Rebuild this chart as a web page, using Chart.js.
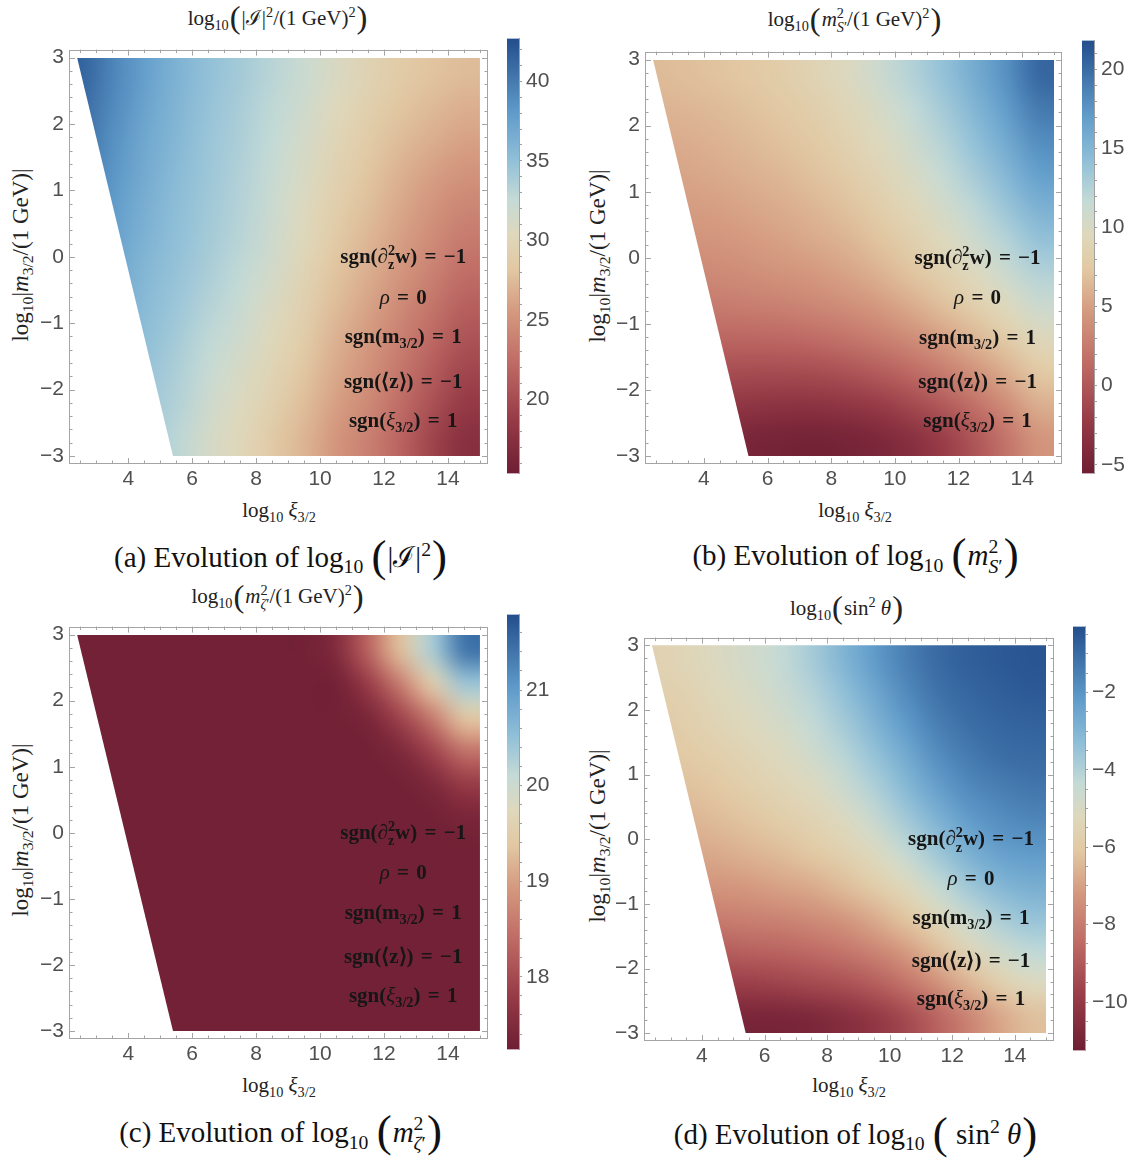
<!DOCTYPE html>
<html>
<head>
<meta charset="utf-8">
<script src="https://cdn.jsdelivr.net/npm/chart.js@4.4.1/dist/chart.umd.min.js"></script>
<style>
  body { margin: 0; background: #fff; }
  #page { position: relative; width: 1136px; height: 1160px; overflow: hidden; background: #fff; }
  canvas { position: absolute; }
  .t { position: absolute; transform: translate(-50%, -50%); white-space: nowrap;
       font-family: "Liberation Serif", serif; color: #222; line-height: 1; }
  .title { font-size: 21px; }
  .xtit { font-size: 21px; }
  .ytit { font-size: 23px; transform: translate(-50%, -50%) rotate(-90deg); }
  .cap { font-size: 29px; color: #111; }
  .bp { font-size: 1.55em; vertical-align: -0.1em; line-height: 0; padding: 0 1px; }
  sub, sup { font-size: 0.68em; line-height: 0; }
  .ss { display: inline-block; vertical-align: -0.42em; font-size: 0.68em; line-height: 1; text-align: left; }
  .ss span { display: block; }
  .sign { font-size: 21px; font-weight: bold; color: #161616; word-spacing: 2px; }
  .sign i { font-weight: normal; }
</style>
</head>
<body>
<div id="page">
  <!-- panel titles -->
  <div class="t title" style="left:278px;top:18px">log<sub>10</sub><span class="bp">(</span>|ℐ|<sup>2</sup>/(1 GeV)<sup>2</sup><span class="bp">)</span></div>
  <div class="t title" style="left:855px;top:20px">log<sub>10</sub><span class="bp">(</span><i>m</i><span class="ss"><span>2</span><span><i>S</i>′</span></span>/(1 GeV)<sup>2</sup><span class="bp">)</span></div>
  <div class="t title" style="left:278px;top:597px">log<sub>10</sub><span class="bp">(</span><i>m</i><span class="ss"><span>2</span><span><i>ζ</i>′</span></span>/(1 GeV)<sup>2</sup><span class="bp">)</span></div>
  <div class="t title" style="left:847px;top:608px">log<sub>10</sub><span class="bp">(</span>sin<sup>2</sup> <i>θ</i><span class="bp">)</span></div>

  <!-- axis titles -->
  <div class="t ytit" style="left:20px;top:255px">log<sub>10</sub>|<i>m</i><sub>3/2</sub>/(1 GeV)|</div>
  <div class="t ytit" style="left:597px;top:256px">log<sub>10</sub>|<i>m</i><sub>3/2</sub>/(1 GeV)|</div>
  <div class="t ytit" style="left:20px;top:830px">log<sub>10</sub>|<i>m</i><sub>3/2</sub>/(1 GeV)|</div>
  <div class="t ytit" style="left:597px;top:836px">log<sub>10</sub>|<i>m</i><sub>3/2</sub>/(1 GeV)|</div>
  <div class="t xtit" style="left:279px;top:510px">log<sub>10</sub> <i>ξ</i><sub>3/2</sub></div>
  <div class="t xtit" style="left:855px;top:510px">log<sub>10</sub> <i>ξ</i><sub>3/2</sub></div>
  <div class="t xtit" style="left:279px;top:1085px">log<sub>10</sub> <i>ξ</i><sub>3/2</sub></div>
  <div class="t xtit" style="left:849px;top:1085px">log<sub>10</sub> <i>ξ</i><sub>3/2</sub></div>

  <!-- captions -->
  <div class="t cap" style="left:281px;top:557px">(a) Evolution of log<sub>10</sub> <span class="bp">(</span>|ℐ|<sup>2</sup><span class="bp">)</span></div>
  <div class="t cap" style="left:856px;top:557px">(b) Evolution of log<sub>10</sub> <span class="bp">(</span><i>m</i><span class="ss"><span>2</span><span><i>S</i>′</span></span><span class="bp">)</span></div>
  <div class="t cap" style="left:281px;top:1134px">(c) Evolution of log<sub>10</sub> <span class="bp">(</span><i>m</i><span class="ss"><span>2</span><span><i>ζ</i>′</span></span><span class="bp">)</span></div>
  <div class="t cap" style="left:856px;top:1134px">(d) Evolution of log<sub>10</sub> <span class="bp">(</span> sin<sup>2</sup> <i>θ</i><span class="bp">)</span></div>
</div>

<script>
// grid nodes (cell centres) of the density plots
const xNodes = [2.5, 3.5, 4.5, 5.5, 6.5, 7.5, 8.5, 9.5, 10.5, 11.5, 12.5, 13.5, 14.5];
const yNodes = [2.75, 2.25, 1.75, 1.25, 0.75, 0.25, -0.25, -0.75, -1.25, -1.75, -2.25, -2.75];

// plotted region: right edge, top/bottom, slanted left edge (x at y=3 and y=-3)
const domainX = [2.4, 15];
const domainY = [-3, 3];
const leftEdgeX = [2.4, 5.4];

const xTicks = [4, 6, 8, 10, 12, 14];
const yTicks = [3, 2, 1, 0, -1, -2, -3];

// (a) log10(|I|^2/(1 GeV)^2)
const gridIsq = [
  [41.5, 39.4, 37.7, 36.2, 35.0, 34.1, 33.1, 32.1, 30.9, 29.6, 28.6, 28.0, 27.5],
  [41.0, 39.1, 37.4, 36.0, 34.8, 33.9, 32.8, 31.7, 30.4, 29.1, 28.1, 27.4, 26.8],
  [40.6, 38.7, 37.1, 35.8, 34.6, 33.7, 32.6, 31.3, 29.9, 28.6, 27.5, 26.7, 26.0],
  [40.1, 38.4, 36.8, 35.5, 34.5, 33.5, 32.3, 31.0, 29.5, 28.1, 26.9, 25.9, 25.1],
  [39.7, 38.0, 36.5, 35.3, 34.3, 33.3, 32.1, 30.6, 29.0, 27.7, 26.4, 25.2, 24.2],
  [39.2, 37.7, 36.2, 35.1, 34.1, 33.1, 31.8, 30.2, 28.5, 27.2, 25.9, 24.6, 23.4],
  [38.8, 37.3, 35.8, 34.8, 33.8, 32.7, 31.4, 29.7, 28.0, 26.7, 25.3, 23.9, 22.5],
  [38.3, 36.9, 35.5, 34.5, 33.3, 32.2, 30.8, 29.2, 27.5, 26.1, 24.5, 23.0, 21.5],
  [37.8, 36.5, 35.2, 34.1, 32.8, 31.7, 30.2, 28.7, 26.9, 25.5, 23.8, 22.1, 20.5],
  [37.2, 36.1, 34.8, 33.7, 32.3, 31.1, 29.7, 28.1, 26.4, 25.0, 23.1, 21.2, 19.5],
  [36.8, 35.6, 34.5, 33.4, 31.8, 30.6, 29.1, 27.6, 25.8, 24.4, 22.4, 20.3, 18.5],
  [36.3, 35.2, 34.2, 33.0, 31.3, 30.1, 28.5, 27.1, 25.3, 23.8, 21.8, 19.4, 17.5]
];

// (b) log10(m^2_S'/(1 GeV)^2)
const gridMS = [
  [6.6, 6.8, 7.1, 7.5, 8.0, 8.8, 9.8, 11.0, 12.5, 14.0, 15.8, 17.8, 20.3],
  [6.1, 6.3, 6.6, 7.0, 7.5, 8.2, 9.1, 10.3, 11.7, 13.2, 15.0, 17.0, 19.2],
  [5.6, 5.8, 6.1, 6.5, 7.0, 7.6, 8.5, 9.6, 10.9, 12.4, 14.1, 16.0, 18.0],
  [5.1, 5.3, 5.6, 6.0, 6.4, 7.0, 7.8, 8.8, 10.1, 11.5, 13.1, 14.9, 16.8],
  [4.6, 4.8, 5.0, 5.4, 5.8, 6.3, 7.0, 8.0, 9.2, 10.5, 12.0, 13.7, 15.4],
  [4.0, 4.2, 4.4, 4.7, 5.1, 5.6, 6.2, 7.1, 8.2, 9.5, 10.9, 12.4, 14.0],
  [3.3, 3.4, 3.6, 3.9, 4.2, 4.6, 5.2, 6.0, 7.1, 8.3, 9.6, 11.0, 12.5],
  [2.4, 2.4, 2.5, 2.7, 2.9, 3.3, 3.8, 4.6, 5.6, 6.8, 8.1, 9.5, 11.0],
  [1.2, 1.1, 1.0, 1.0, 1.1, 1.4, 1.9, 2.6, 3.6, 4.8, 6.2, 7.7, 9.3],
  [-0.2, -0.5, -0.8, -1.0, -1.0, -0.9, -0.5, 0.2, 1.2, 2.5, 4.0, 5.7, 7.5],
  [-1.6, -2.1, -2.6, -3.0, -3.2, -3.2, -2.9, -2.3, -1.3, 0.0, 1.7, 3.7, 5.8],
  [-3.0, -3.6, -4.2, -4.7, -5.0, -5.1, -4.9, -4.4, -3.5, -2.1, -0.2, 2.0, 4.3]
];

// (c) log10(m^2_zeta'/(1 GeV)^2)
const gridMZeta = [
  [17.3, 17.3, 17.3, 17.3, 17.3, 17.3, 17.3, 17.3, 17.5, 18.3, 19.3, 20.3, 21.4],
  [17.3, 17.3, 17.3, 17.3, 17.3, 17.3, 17.3, 17.3, 17.3, 17.8, 18.6, 19.5, 20.4],
  [17.3, 17.3, 17.3, 17.3, 17.3, 17.3, 17.3, 17.3, 17.3, 17.4, 17.9, 18.6, 19.4],
  [17.3, 17.3, 17.3, 17.3, 17.3, 17.3, 17.3, 17.3, 17.3, 17.3, 17.45, 17.9, 18.5],
  [17.3, 17.3, 17.3, 17.3, 17.3, 17.3, 17.3, 17.3, 17.3, 17.3, 17.3, 17.45, 17.8],
  [17.3, 17.3, 17.3, 17.3, 17.3, 17.3, 17.3, 17.3, 17.3, 17.3, 17.3, 17.3, 17.4],
  [17.3, 17.3, 17.3, 17.3, 17.3, 17.3, 17.3, 17.3, 17.3, 17.3, 17.3, 17.3, 17.3],
  [17.3, 17.3, 17.3, 17.3, 17.3, 17.3, 17.3, 17.3, 17.3, 17.3, 17.3, 17.3, 17.3],
  [17.3, 17.3, 17.3, 17.3, 17.3, 17.3, 17.3, 17.3, 17.3, 17.3, 17.3, 17.3, 17.3],
  [17.3, 17.3, 17.3, 17.3, 17.3, 17.3, 17.3, 17.3, 17.3, 17.3, 17.3, 17.3, 17.3],
  [17.3, 17.3, 17.3, 17.3, 17.3, 17.3, 17.3, 17.3, 17.3, 17.3, 17.3, 17.3, 17.3],
  [17.3, 17.3, 17.3, 17.3, 17.3, 17.3, 17.3, 17.3, 17.3, 17.3, 17.3, 17.3, 17.3]
];

// (d) log10(sin^2 theta)
const gridSin = [
  [-5.6, -5.4, -5.1, -4.8, -4.4, -3.8, -3.0, -2.2, -1.5, -1.0, -0.7, -0.6, -0.5],
  [-5.8, -5.6, -5.3, -5.0, -4.6, -4.1, -3.4, -2.6, -1.8, -1.2, -0.9, -0.7, -0.6],
  [-6.0, -5.8, -5.5, -5.2, -4.9, -4.4, -3.8, -3.0, -2.2, -1.5, -1.1, -0.9, -0.8],
  [-6.2, -6.0, -5.8, -5.5, -5.2, -4.8, -4.2, -3.5, -2.7, -1.9, -1.4, -1.1, -1.0],
  [-6.4, -6.3, -6.1, -5.8, -5.5, -5.2, -4.7, -4.0, -3.2, -2.4, -1.8, -1.5, -1.3],
  [-6.7, -6.6, -6.4, -6.2, -5.9, -5.6, -5.2, -4.6, -3.8, -3.0, -2.3, -1.9, -1.7],
  [-7.0, -6.9, -6.8, -6.6, -6.4, -6.1, -5.7, -5.2, -4.5, -3.7, -2.9, -2.4, -2.2],
  [-7.5, -7.4, -7.3, -7.2, -7.0, -6.8, -6.4, -5.9, -5.3, -4.5, -3.7, -3.1, -2.8],
  [-8.1, -8.1, -8.0, -7.9, -7.8, -7.6, -7.3, -6.8, -6.2, -5.4, -4.6, -3.9, -3.5],
  [-8.9, -8.9, -8.9, -8.8, -8.7, -8.5, -8.2, -7.8, -7.2, -6.4, -5.5, -4.8, -4.3],
  [-9.7, -9.8, -9.8, -9.8, -9.7, -9.5, -9.3, -8.9, -8.3, -7.5, -6.6, -5.8, -5.2],
  [-10.4, -10.6, -10.8, -10.9, -10.9, -10.8, -10.5, -10.1, -9.5, -8.7, -7.8, -6.9, -6.3]
];

// colour bar ranges and labels
const cbRangeA = [15.37, 42.68], cbTicksA = [20, 25, 30, 35, 40];
const cbRangeB = [-5.55, 21.84], cbTicksB = [-5, 0, 5, 10, 15, 20];
const cbRangeC = [17.24, 21.79], cbTicksC = [18, 19, 20, 21];
const cbRangeD = [-11.25, -0.30], cbTicksD = [-10, -8, -6, -4, -2];

// sign conditions written in every panel
const signLabels = [
  'sgn(∂<span class="ss"><span>2</span><span>z</span></span>w) = −1',
  '<i>ρ</i> = 0',
  'sgn(m<sub>3/2</sub>) = 1',
  'sgn(⟨z⟩) = −1',
  'sgn(<i>ξ</i><sub>3/2</sub>) = 1'
];
const signLabelY = [0, -0.6, -1.2, -1.87, -2.46];
const signLabelX = 12.6;

// --------- colour map (red-blue tones) ---------
const cmapStops = [
  [0.00, [110, 30, 52]],
  [0.12, [150, 58, 70]],
  [0.25, [190, 105, 100]],
  [0.37, [212, 152, 126]],
  [0.47, [226, 200, 162]],
  [0.55, [222, 216, 188]],
  [0.63, [196, 218, 214]],
  [0.72, [145, 192, 216]],
  [0.83, [95, 155, 202]],
  [1.00, [35, 78, 140]]
];

function colorAt(t) {
  t = Math.max(0, Math.min(1, t));
  for (let i = 1; i < cmapStops.length; i++) {
    const [t1, c1] = cmapStops[i];
    if (t <= t1) {
      const [t0, c0] = cmapStops[i - 1];
      const f = (t - t0) / (t1 - t0);
      return c0.map((c, k) => Math.round(c + (c1[k] - c) * f));
    }
  }
  return cmapStops[cmapStops.length - 1][1];
}

const fmt = v => (v < 0 ? '−' + Math.abs(v) : String(v));
const tickFont = { family: '"Liberation Sans", Arial, sans-serif', size: 21 };
const tickColor = '#505050';
const page = document.getElementById('page');

// --------- density plot drawn from the dataset points ---------
const heatmap = {
  id: 'heatmap',
  beforeDatasetsDraw(chart, args, opts) {
    const { ctx, scales: { x, y } } = chart;
    const pts = chart.data.datasets[0].data;
    const nx = xNodes.length, ny = yNodes.length;
    const off = document.createElement('canvas');
    off.width = nx;
    off.height = ny;
    const octx = off.getContext('2d');
    const img = octx.createImageData(nx, ny);
    pts.forEach((p, k) => {
      const c = colorAt((p.v - opts.min) / (opts.max - opts.min));
      img.data.set([c[0], c[1], c[2], 255], k * 4);
    });
    octx.putImageData(img, 0, 0);

    const dx = xNodes[1] - xNodes[0], dy = yNodes[0] - yNodes[1];
    const left = x.getPixelForValue(xNodes[0] - dx / 2);
    const right = x.getPixelForValue(xNodes[nx - 1] + dx / 2);
    const top = y.getPixelForValue(yNodes[0] + dy / 2);
    const bottom = y.getPixelForValue(yNodes[ny - 1] - dy / 2);

    ctx.save();
    ctx.beginPath();
    ctx.moveTo(x.getPixelForValue(leftEdgeX[0]), y.getPixelForValue(domainY[1]));
    ctx.lineTo(x.getPixelForValue(domainX[1]), y.getPixelForValue(domainY[1]));
    ctx.lineTo(x.getPixelForValue(domainX[1]), y.getPixelForValue(domainY[0]));
    ctx.lineTo(x.getPixelForValue(leftEdgeX[1]), y.getPixelForValue(domainY[0]));
    ctx.closePath();
    ctx.clip();
    ctx.imageSmoothingEnabled = true;
    ctx.imageSmoothingQuality = 'high';
    ctx.drawImage(off, left, top, right - left, bottom - top);
    ctx.restore();
  }
};

// --------- frame with inward ticks ---------
const frame = {
  id: 'frame',
  afterDatasetsDraw(chart) {
    const { ctx, chartArea: a, scales: { x, y } } = chart;
    ctx.save();
    ctx.strokeStyle = '#a4a4a4';
    ctx.lineWidth = 1;
    ctx.strokeRect(Math.round(a.left) + 0.5, Math.round(a.top) + 0.5, Math.round(a.width) - 1, Math.round(a.height) - 1);
    const line = (x0, y0, x1, y1) => { ctx.beginPath(); ctx.moveTo(x0, y0); ctx.lineTo(x1, y1); ctx.stroke(); };
    for (let k = 5; k <= 30; k++) {
      const v = k / 2;
      const len = xTicks.includes(v) ? 6 : 3.5;
      const px = Math.round(x.getPixelForValue(v)) + 0.5;
      line(px, a.bottom, px, a.bottom - len);
      line(px, a.top, px, a.top + len);
    }
    for (let k = -15; k <= 15; k++) {
      const len = k % 5 === 0 ? 6 : 3.5;
      const py = Math.round(y.getPixelForValue(k / 5)) + 0.5;
      line(a.left, py, a.left + len, py);
      line(a.right, py, a.right - len, py);
    }
    ctx.restore();
  }
};

function makePanel(p) {
  const yAxisW = 60, xAxisH = 40, padT = 12, padR = 6;
  const cv = document.createElement('canvas');
  cv.width = yAxisW + p.W + padR;
  cv.height = padT + p.H + xAxisH;
  cv.style.left = (p.L - yAxisW) + 'px';
  cv.style.top = (p.T - padT) + 'px';
  page.appendChild(cv);

  const pts = [];
  yNodes.forEach((yv, j) => xNodes.forEach((xv, i) => pts.push({ x: xv, y: yv, v: p.grid[j][i] })));

  const xPad = 0.02 * (domainX[1] - domainX[0]);
  const yPad = 0.02 * (domainY[1] - domainY[0]);

  const chart = new Chart(cv, {
    type: 'scatter',
    data: { datasets: [{ data: pts, pointRadius: 0, pointHoverRadius: 0 }] },
    options: {
      responsive: false,
      animation: false,
      events: [],
      layout: { padding: { top: padT, right: padR, left: 0, bottom: 0 } },
      plugins: {
        legend: { display: false },
        tooltip: { enabled: false },
        heatmap: { min: p.range[0], max: p.range[1] }
      },
      scales: {
        x: {
          type: 'linear',
          min: domainX[0] - xPad,
          max: domainX[1] + xPad,
          afterBuildTicks: s => { s.ticks = xTicks.map(v => ({ value: v })); },
          afterFit: s => { s.height = xAxisH; },
          ticks: { font: tickFont, color: tickColor, padding: 3, maxRotation: 0, autoSkip: false, callback: fmt },
          grid: { display: false, drawTicks: false },
          border: { display: false }
        },
        y: {
          type: 'linear',
          min: domainY[0] - yPad,
          max: domainY[1] + yPad,
          afterBuildTicks: s => { s.ticks = yTicks.map(v => ({ value: v })); },
          afterFit: s => { s.width = yAxisW; },
          ticks: { font: tickFont, color: tickColor, padding: 5, autoSkip: false, callback: fmt },
          grid: { display: false, drawTicks: false },
          border: { display: false }
        }
      }
    },
    plugins: [heatmap, frame]
  });

  // sign conditions placed with the chart's own scales
  const ox = p.L - yAxisW, oy = p.T - padT;
  signLabels.forEach((html, i) => {
    const d = document.createElement('div');
    d.className = 't sign';
    d.innerHTML = html;
    d.style.left = (ox + chart.scales.x.getPixelForValue(signLabelX)) + 'px';
    d.style.top = (oy + chart.scales.y.getPixelForValue(signLabelY[i])) + 'px';
    page.appendChild(d);
  });

  makeColorbar(p);
}

function cbGradient(chart) {
  const a = chart.chartArea;
  if (!a) return '#888';
  const g = chart.ctx.createLinearGradient(0, a.bottom, 0, a.top);
  cmapStops.forEach(([t, c]) => g.addColorStop(t, `rgb(${c.join(',')})`));
  return g;
}

function makeColorbar(p) {
  const axisW = 54, pad = 10;
  const cv = document.createElement('canvas');
  cv.width = p.cb.w + axisW;
  cv.height = p.cb.h + 2 * pad;
  cv.style.left = p.cb.x + 'px';
  cv.style.top = (p.cb.y - pad) + 'px';
  page.appendChild(cv);

  const minors = [];
  for (let k = Math.ceil(p.range[0] / p.minor); k * p.minor <= p.range[1]; k++) {
    minors.push(Math.round(k * p.minor * 1000) / 1000);
  }

  new Chart(cv, {
    type: 'bar',
    data: {
      labels: [''],
      datasets: [{
        data: [p.range],
        backgroundColor: c => cbGradient(c.chart),
        borderWidth: 0,
        barPercentage: 1,
        categoryPercentage: 1
      }]
    },
    options: {
      responsive: false,
      animation: false,
      events: [],
      layout: { padding: { top: pad, bottom: pad, left: 0, right: 0 } },
      plugins: { legend: { display: false }, tooltip: { enabled: false } },
      scales: {
        x: { display: false },
        y: {
          position: 'right',
          min: p.range[0],
          max: p.range[1],
          afterBuildTicks: s => { s.ticks = minors.map(v => ({ value: v })); },
          afterFit: s => { s.width = axisW; },
          ticks: {
            font: tickFont, color: tickColor, padding: 4, autoSkip: false,
            callback: v => (p.cbTicks.includes(v) ? fmt(v) : '')
          },
          grid: { drawOnChartArea: false, tickLength: 3, color: '#a0a0a0' },
          border: { color: '#a0a0a0' }
        }
      }
    }
  });
}

const panels = [
  { grid: gridIsq, range: cbRangeA, cbTicks: cbTicksA, minor: 1, L: 69, T: 44, W: 419, H: 420,
    cb: { x: 507, y: 32, w: 12, h: 448 } },
  { grid: gridMS, range: cbRangeB, cbTicks: cbTicksB, minor: 1, L: 645, T: 46, W: 417, H: 418,
    cb: { x: 1082, y: 34, w: 12, h: 446 } },
  { grid: gridMZeta, range: cbRangeC, cbTicks: cbTicksC, minor: 0.2, L: 69, T: 621, W: 419, H: 418,
    cb: { x: 507, y: 608, w: 12, h: 448 } },
  { grid: gridSin, range: cbRangeD, cbTicks: cbTicksD, minor: 0.5, L: 644, T: 632, W: 410, H: 409,
    cb: { x: 1073, y: 620, w: 12, h: 437 } }
];

panels.forEach(makePanel);
</script>
</body>
</html>
